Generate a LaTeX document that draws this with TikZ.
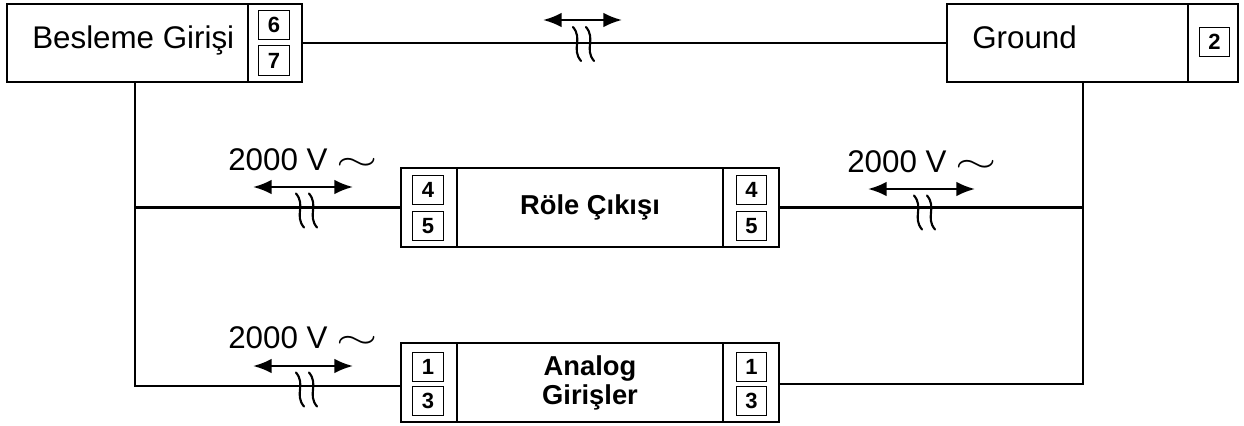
\documentclass[tikz,border=0pt]{standalone}
\usepackage{fontspec}
\setmainfont{Liberation Sans}
\usetikzlibrary{arrows.meta}

\tikzset{
  mainbox/.style={draw, line width=2.1pt, minimum width=180.75pt, minimum height=58.5pt, inner sep=0pt},
  termcol/.style={draw, line width=1.5pt, minimum width=42pt, minimum height=59.25pt, inner sep=0pt},
  termbox/.style={draw, line width=0.9pt, minimum width=23pt, minimum height=22pt, inner sep=0pt, font=\fontsize{16.5}{18}\selectfont\bfseries},
  wire/.style={line width=1.8pt},
  dimarrow/.style={line width=1.8pt, {Latex[length=14pt,width=11pt]}-{Latex[length=14pt,width=11pt]}},
  brk/.style={line width=1.6pt, line cap=round},
  volt/.style={anchor=base west, inner sep=0pt, font=\fontsize{23.5}{28}\selectfont},
  bigtext/.style={anchor=base west, inner sep=0pt, font=\fontsize{23.5}{28}\selectfont},
  boldtext/.style={align=center, font=\fontsize{20.5}{21.75}\selectfont\bfseries},
  wirebreak/.pic={
    \draw[brk] (4,-17) .. controls (-6,-5) and (6,5) .. (-4,17);
    \draw[brk] (17,-17) .. controls (7,-5) and (19,5) .. (9,17);
  }
}

\begin{document}
\begin{tikzpicture}[x=0.75pt,y=0.75pt,yscale=-1,xscale=1]
\useasboundingbox (0,0) rectangle (1244,425);

% Besleme Girisi
\node[mainbox] (besleme) at (127.5,43) {};
\node[bigtext] (beslemetxt) at (32,48) {Besleme Girişi};
\node[termcol, minimum width=40.5pt, minimum height=58.5pt] (beslemeT) at (275,43) {};
\node[termbox] (t6) at (274,25) {6};
\node[termbox] (t7) at (274,60.5) {7};

% Ground
\node[mainbox] (ground) at (1067.5,43) {};
\node[bigtext] (groundtxt) at (972,48) {Ground};
\node[termcol, minimum width=37.5pt, minimum height=58.5pt] (groundT) at (1213,43) {};
\node[termbox] (t2) at (1214.5,42) {2};

% Role Cikisi
\node[mainbox, boldtext, minimum width=199.5pt, minimum height=59.25pt] (role) at (590,207.5) {Röle Çıkışı};
\node[termcol] (roleL) at (429,207.5) {};
\node[termcol] (roleR) at (751,207.5) {};
\node[termbox] (r4L) at (428,190) {4};
\node[termbox] (r5L) at (428,226) {5};
\node[termbox] (r4R) at (751.5,190) {4};
\node[termbox] (r5R) at (751.5,226) {5};

% Analog Girisler
\node[mainbox, boldtext, minimum width=199.5pt, minimum height=59.25pt] (analog) at (590,382.5) {Analog\\Girişler};
\node[termcol] (analogL) at (429,382.5) {};
\node[termcol] (analogR) at (751,382.5) {};
\node[termbox] (a1L) at (428,367) {1};
\node[termbox] (a3L) at (428,401) {3};
\node[termbox] (a1R) at (751.5,367) {1};
\node[termbox] (a3R) at (751.5,401) {3};

% wires
\coordinate (lbot) at (135,386);
\coordinate (rbot) at (1083,384);
\draw[wire] (beslemeT.east) -- (ground.west);
\draw[wire] (besleme.south -| lbot) -- (lbot) -- (lbot -| analogL.west);
\draw[wire] (roleL.west) -- (roleL.west -| lbot);
\draw[wire] (ground.south -| rbot) -- (rbot) -- (rbot -| analogR.east);
\draw[wire] (roleR.east) -- (roleR.east -| rbot);

% isolation arrows
\coordinate (topA) at (543,20);
\coordinate (topB) at (622,20);
\coordinate (roleLA) at (253,187);
\coordinate (roleLB) at (353,187);
\coordinate (roleRA) at (868,189);
\coordinate (roleRB) at (975,189);
\coordinate (analogLA) at (253,366);
\coordinate (analogLB) at (353,366);
\draw[dimarrow] (topA) -- (topB);
\draw[dimarrow] (roleLA) -- (roleLB);
\draw[dimarrow] (roleRA) -- (roleRB);
\draw[dimarrow] (analogLA) -- (analogLB);

% breaks
\pic at (577,44) {wirebreak};
\pic at (300,210.5) {wirebreak};
\pic at (918,212.5) {wirebreak};
\pic at (300,389.5) {wirebreak};

% test voltages
\node[volt] (voltRL) at (228,170) {2000 V \scalebox{1.6}[1]{$\sim$}};
\node[volt] (voltRR) at (847,172) {2000 V \scalebox{1.6}[1]{$\sim$}};
\node[volt] (voltAL) at (228,348) {2000 V \scalebox{1.6}[1]{$\sim$}};
\end{tikzpicture}
\end{document}
